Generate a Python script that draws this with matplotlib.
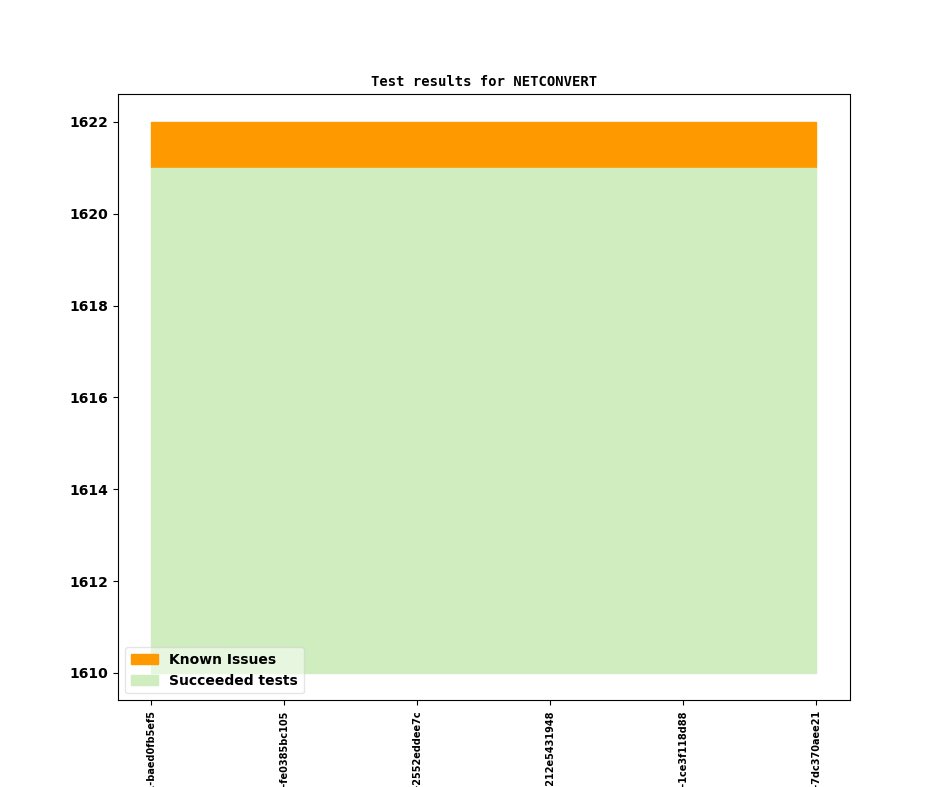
import matplotlib
matplotlib.use('Agg')
import matplotlib.pyplot as plt

revisions = ['v1_20_0+0471-baed0fb5ef5', 'v1_20_0+0472-fe0385bc105', 'v1_20_0+0473-2552eddee7c',
             'v1_20_0+0474-212e5431948', 'v1_20_0+0475-1ce3f118d88', 'v1_20_0+0476-7dc370aee21']
base = [1610, 1610, 1610, 1610, 1610, 1610]
succeeded = [1621, 1621, 1621, 1621, 1621, 1621]
known_issues = [1, 1, 1, 1, 1, 1]

total = [s + k for s, k in zip(succeeded, known_issues)]
x = list(range(len(revisions)))

fig = plt.figure(figsize=(9.44, 7.87), dpi=100)
ax = fig.add_subplot(111)
ax.fill_between(x, succeeded, total, facecolor='#ff9900', edgecolor='#ff9900', linewidth=1, label='Known Issues')
ax.fill_between(x, base, succeeded, facecolor='#cfedbf', edgecolor='#cfedbf', linewidth=1, label='Succeeded tests')
ax.set_title('Test results for NETCONVERT', fontsize=10, fontweight='bold', family='DejaVu Sans Mono')
ax.set_xticks(x)
ax.set_xticklabels(revisions, rotation=90, fontsize=7, fontweight='bold')
for lbl in ax.get_yticklabels():
    lbl.set_fontweight('bold')
ax.tick_params(axis='y', labelsize=10)
ax.legend(loc='lower left', prop={'weight': 'bold', 'size': 10}, framealpha=0.5)
fig.savefig('out.png', dpi=100)
